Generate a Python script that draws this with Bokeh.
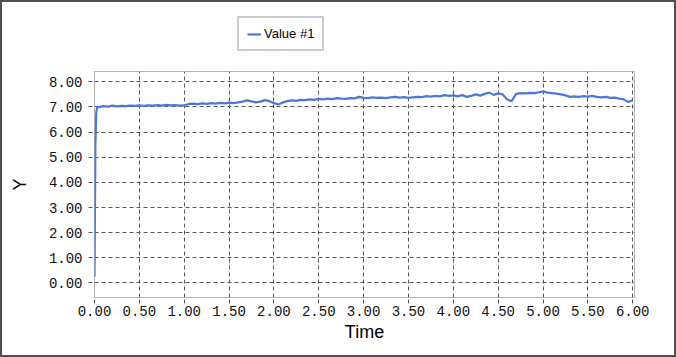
from bokeh.plotting import figure
from bokeh.layouts import column
from bokeh.models import Range1d, FixedTicker, PrintfTickFormatter, Legend, LegendItem
from bokeh.embed import file_html
from bokeh.resources import INLINE

series_name = "Value #1"
x_label = "Time"
y_label = "Y"

x_ticks = [0.0, 0.5, 1.0, 1.5, 2.0, 2.5, 3.0, 3.5, 4.0, 4.5, 5.0, 5.5, 6.0]
y_ticks = [0, 1, 2, 3, 4, 5, 6, 7, 8]

time = [0.00, 0.01, 0.02, 0.03,
        0.05, 0.10, 0.15, 0.20, 0.25, 0.30, 0.35, 0.40, 0.45, 0.50,
        0.55, 0.60, 0.65, 0.70, 0.75, 0.80, 0.85, 0.90, 0.95, 1.00,
        1.05, 1.10, 1.15, 1.20, 1.25, 1.30, 1.35, 1.40, 1.45, 1.50,
        1.55, 1.60, 1.65, 1.70, 1.75, 1.80, 1.85, 1.90, 1.95, 2.00,
        2.05, 2.10, 2.15, 2.20, 2.25, 2.30, 2.35, 2.40, 2.45, 2.50,
        2.55, 2.60, 2.65, 2.70, 2.75, 2.80, 2.85, 2.90, 2.95, 3.00,
        3.05, 3.10, 3.15, 3.20, 3.25, 3.30, 3.35, 3.40, 3.45, 3.50,
        3.55, 3.60, 3.65, 3.70, 3.75, 3.80, 3.85, 3.90, 3.95, 4.00,
        4.05, 4.10, 4.15, 4.20, 4.25, 4.30, 4.35, 4.40, 4.45, 4.50,
        4.55, 4.60, 4.65, 4.70, 4.75, 4.80, 4.85, 4.90, 4.95, 5.00,
        5.05, 5.10, 5.15, 5.20, 5.25, 5.30, 5.35, 5.40, 5.45, 5.50,
        5.55, 5.60, 5.65, 5.70, 5.75, 5.80, 5.85, 5.90, 5.95, 6.00]

values = [0.25, 5.50, 6.80, 7.00,
          6.99, 7.03, 7.01, 7.05, 7.02, 7.04, 7.03, 7.05, 7.04, 7.06,
          7.04, 7.06, 7.05, 7.07, 7.05, 7.08, 7.06, 7.07, 7.05, 7.06,
          7.12, 7.13, 7.11, 7.14, 7.12, 7.15, 7.13, 7.16, 7.14, 7.17,
          7.15, 7.18, 7.21, 7.26, 7.22, 7.18, 7.21, 7.27, 7.23, 7.15,
          7.10, 7.18, 7.23, 7.26, 7.24, 7.28, 7.27, 7.30, 7.28, 7.32,
          7.30, 7.33, 7.31, 7.35, 7.33, 7.32, 7.35, 7.34, 7.40, 7.36,
          7.35, 7.38, 7.36, 7.37, 7.35, 7.38, 7.40, 7.37, 7.39, 7.36,
          7.38, 7.40, 7.39, 7.43, 7.41, 7.44, 7.42, 7.47, 7.44, 7.46,
          7.42, 7.47, 7.40, 7.44, 7.50, 7.45, 7.52, 7.57, 7.48, 7.54,
          7.50, 7.30, 7.23, 7.52, 7.55, 7.54, 7.56, 7.55, 7.58, 7.62,
          7.57, 7.55, 7.53, 7.50, 7.46, 7.40, 7.42, 7.40, 7.43, 7.41,
          7.44, 7.40, 7.38, 7.40, 7.36, 7.37, 7.33, 7.30, 7.20, 7.27]

line_color = "#4d77d8"

# --- legend strip (top) ---
lf = figure(width=672, height=68, output_backend="svg", toolbar_location=None,
            x_range=Range1d(0, 1), y_range=Range1d(0, 1),
            x_axis_type=None, y_axis_type=None,
            min_border=0, min_border_left=0, min_border_right=0,
            min_border_top=0, min_border_bottom=0,
            background_fill_color="white", border_fill_color="white")
lf.outline_line_color = None
lf.xgrid.visible = False
lf.ygrid.visible = False
# legend-only renderer, its points lie outside the visible range
lr = lf.line([5, 6], [5, 6], line_color=line_color, line_width=2.2)

legend = Legend(items=[LegendItem(label=series_name, renderers=[lr])],
                location=(143, 19), orientation="vertical")
legend.border_line_color = "#9a9a9a"
legend.border_line_width = 2
legend.background_fill_color = "white"
legend.background_fill_alpha = 1
legend.padding = 8
legend.margin = 0
legend.glyph_width = 14
legend.glyph_height = 14
legend.label_standoff = 3
legend.label_text_font = "Liberation Sans"
legend.label_text_font_size = "13px"
legend.label_text_color = "#000000"
legend.label_height = 15
lf.add_layout(legend, "center")

# --- main chart ---
p = figure(width=672, height=285, output_backend="svg", toolbar_location=None,
           x_range=Range1d(0, 6.02), y_range=Range1d(-0.58, 8.41),
           min_border_left=92, min_border_right=40, min_border_top=1, min_border_bottom=58,
           background_fill_color="white", border_fill_color="white")

p.outline_line_color = "#b4b4b4"
p.outline_line_width = 1

r = p.line(time, values, line_color=line_color, line_width=2.2)

for ax in (p.xaxis[0], p.yaxis[0]):
    ax.axis_line_color = None
    ax.major_tick_in = 0
    ax.major_tick_out = 6
    ax.major_tick_line_color = "#555555"
    ax.major_tick_line_dash = "4 3"
    ax.minor_tick_line_color = None
    ax.major_label_text_font = "Liberation Mono"
    ax.major_label_text_font_size = "14px"
    ax.major_label_text_color = "#111111"
    ax.axis_label_text_font = "Liberation Sans"
    ax.axis_label_text_font_size = "18px"
    ax.axis_label_text_font_style = "normal"
    ax.axis_label_text_color = "#000000"
    ax.formatter = PrintfTickFormatter(format="%.2f")

p.xaxis[0].ticker = FixedTicker(ticks=x_ticks)
p.yaxis[0].ticker = FixedTicker(ticks=y_ticks)
p.xaxis[0].axis_label = x_label
p.yaxis[0].axis_label = y_label
p.xaxis[0].major_label_standoff = 2
p.yaxis[0].major_label_standoff = 6
p.xaxis[0].axis_label_standoff = 3
p.yaxis[0].axis_label_standoff = 16

for g in (p.xgrid[0], p.ygrid[0]):
    g.grid_line_color = "#555555"
    g.grid_line_dash = "4 3"
    g.grid_line_width = 1
p.xgrid[0].ticker = FixedTicker(ticks=x_ticks)
p.ygrid[0].ticker = FixedTicker(ticks=y_ticks)

layout = column(lf, p, spacing=0, styles={"border": "2px solid #505050",
                                           "background-color": "white"})

open("out.html", "w").write(file_html(layout, INLINE))
